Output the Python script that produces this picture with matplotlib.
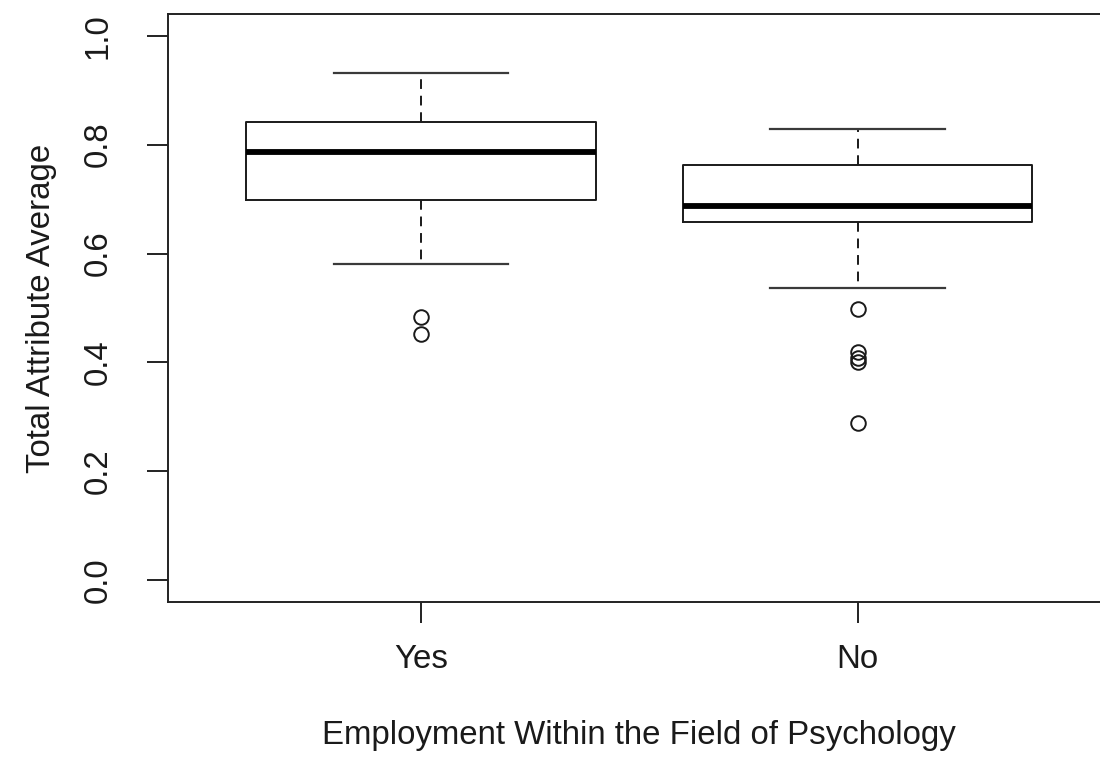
import matplotlib
matplotlib.use("Agg")
import matplotlib.pyplot as plt

plt.rcParams["font.family"] = ["Liberation Sans", "DejaVu Sans"]

# five-number summaries per group, plus the outlying points
groups = ["Yes", "No"]
whisker_high = [0.931, 0.829]
upper_quartile = [0.841, 0.762]
medians = [0.786, 0.687]
lower_quartile = [0.699, 0.658]
whisker_low = [0.580, 0.537]
outliers = [
    [0.484, 0.452],
    [0.498, 0.420, 0.408, 0.401, 0.288],
]

stats = []
for i, name in enumerate(groups):
    stats.append({
        "label": name,
        "whishi": whisker_high[i],
        "q3": upper_quartile[i],
        "med": medians[i],
        "q1": lower_quartile[i],
        "whislo": whisker_low[i],
        "fliers": outliers[i],
    })

fig = plt.figure(figsize=(11, 7.65), dpi=100)
ax = fig.add_axes([0.1523, 0.2131, 0.8577, 0.7686])

ink = "#1a1a1a"
ax.bxp(
    stats,
    positions=[1, 2],
    widths=0.8,
    capwidths=0.4,
    boxprops=dict(color=ink, linewidth=1.4),
    medianprops=dict(color="black", linewidth=4.2, solid_capstyle="butt"),
    whiskerprops=dict(color=ink, linewidth=1.4, linestyle=(0, (5, 3.5))),
    capprops=dict(color="#3a3a3a", linewidth=1.6),
    flierprops=dict(marker="o", markersize=10.5, markerfacecolor="none",
                    markeredgecolor=ink, markeredgewidth=1.4),
)

ax.set_xlim(0.42, 2.58)
ax.set_ylim(-0.04, 1.04)
ax.set_xticks([1, 2])
ax.set_xticklabels(groups)
ax.set_yticks([0.0, 0.2, 0.4, 0.6, 0.8, 1.0])
ax.set_yticklabels(["0.0", "0.2", "0.4", "0.6", "0.8", "1.0"], rotation=90,
                   va="center")

for side in ax.spines.values():
    side.set_linewidth(1.4)
    side.set_color("#222222")

ax.tick_params(axis="both", direction="out", length=15, width=1.4,
               color="#222222", labelsize=23.8, labelcolor="#1a1a1a")
ax.tick_params(axis="x", pad=15.5)
ax.tick_params(axis="y", pad=24)

ax.set_xlabel("Employment Within the Field of Psychology", fontsize=23.8,
              color="#1a1a1a", labelpad=32)
ax.set_ylabel("Total Attribute Average", fontsize=23.8, color="#1a1a1a",
              labelpad=18)

fig.savefig("out.png", dpi=100, facecolor="white")
